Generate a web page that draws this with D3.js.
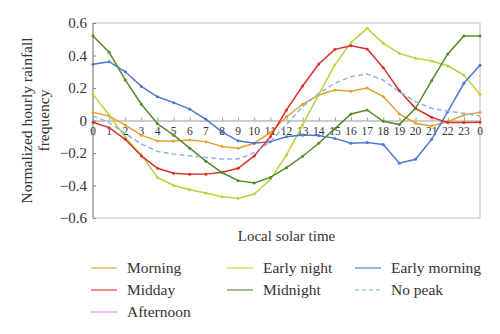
<!DOCTYPE html>
<html>
<head>
<meta charset="utf-8">
<script src="https://cdn.jsdelivr.net/npm/d3@7"></script>
<style>
  body { margin: 0; background: #fff; }
  text { font-family: "Liberation Serif", "DejaVu Serif", serif; fill: #333; }
</style>
</head>
<body>
<script>
// Hours 0..23 and back to 0
const hours = d3.range(25);
const hourLabels = hours.map(h => String(h % 24));
const yTicks = [-0.6, -0.4, -0.2, 0, 0.2, 0.4, 0.6];

// Series values
const morning = [0.05, 0.028, -0.028, -0.09, -0.126, -0.126, -0.12, -0.13, -0.16, -0.17, -0.14, -0.075, 0.023, 0.10, 0.157, 0.188, 0.18, 0.20, 0.147, 0.04, -0.017, -0.034, -0.007, 0.034, 0.05];
const midday = [-0.011, -0.044, -0.116, -0.218, -0.294, -0.325, -0.331, -0.33, -0.319, -0.294, -0.218, -0.10, 0.065, 0.212, 0.348, 0.438, 0.46, 0.44, 0.325, 0.183, 0.075, 0.02, -0.013, -0.013, -0.011];
const earlyNight = [0.161, 0.034, -0.104, -0.212, -0.35, -0.40, -0.426, -0.446, -0.469, -0.479, -0.452, -0.362, -0.212, -0.028, 0.161, 0.342, 0.479, 0.567, 0.475, 0.413, 0.383, 0.366, 0.337, 0.28, 0.161];
const midnight = [0.52, 0.42, 0.25, 0.10, -0.02, -0.09, -0.17, -0.25, -0.32, -0.37, -0.385, -0.35, -0.29, -0.22, -0.14, -0.05, 0.04, 0.065, -0.005, -0.025, 0.075, 0.245, 0.41, 0.52, 0.52];
const earlyMorning = [0.346, 0.362, 0.30, 0.21, 0.146, 0.11, 0.07, 0.007, -0.07, -0.125, -0.14, -0.13, -0.10, -0.09, -0.093, -0.11, -0.14, -0.135, -0.147, -0.263, -0.239, -0.116, 0.054, 0.229, 0.34];
const noPeak = [0.028, -0.013, -0.079, -0.145, -0.19, -0.208, -0.217, -0.227, -0.237, -0.237, -0.198, -0.13, -0.025, 0.085, 0.167, 0.229, 0.27, 0.286, 0.249, 0.177, 0.116, 0.075, 0.058, 0.044, 0.028];

const series = [
    { name: 'Morning', values: morning, color: '#e6a030' },
    { name: 'Early night', values: earlyNight, color: '#b5d53a' },
    { name: 'Early morning', values: earlyMorning, color: '#4a78d2' },
    { name: 'Midday', values: midday, color: '#d8302e' },
    { name: 'Midnight', values: midnight, color: '#56892a' },
    { name: 'No peak', values: noPeak, color: '#8fb3e6', dash: '5,3' },
    { name: 'Afternoon', values: null, color: '#c99ad8' }
];

const svg = d3.select('body')
    .append('svg')
    .attr('width', 500)
    .attr('height', 334);

const x = d3.scaleLinear().domain([0, 24]).range([93, 480]);
const y = d3.scaleLinear().domain([-0.6, 0.6]).range([218, 23]);

// Plot frame
svg.append('rect')
    .attr('x', x(0)).attr('y', y(0.6))
    .attr('width', x(24) - x(0)).attr('height', y(-0.6) - y(0.6))
    .attr('fill', 'none')
    .attr('stroke', '#bbb');
svg.append('line')
    .attr('x1', x(0)).attr('x2', x(0))
    .attr('y1', y(0.6)).attr('y2', y(-0.6))
    .attr('stroke', '#888');

// Y axis
const yAxis = svg.append('g')
    .attr('transform', `translate(${x(0)},0)`)
    .call(d3.axisRight(y).tickValues(yTicks).tickSize(3).tickFormat(''));
yAxis.select('.domain').remove();
yAxis.selectAll('line').attr('stroke', '#888');
svg.selectAll('.ylab')
    .data(yTicks)
    .enter()
    .append('text')
    .attr('x', x(0) - 6)
    .attr('y', d => y(d) + 5)
    .attr('text-anchor', 'end')
    .attr('font-size', 15)
    .text(d => d === 0 ? '0' : (d < 0 ? '\u2212' : '') + Math.abs(d).toFixed(1));

// X axis along zero
const xAxis = svg.append('g')
    .attr('transform', `translate(0,${y(0)})`)
    .call(d3.axisTop(x).tickValues(hours).tickSize(3).tickFormat(''));
xAxis.select('.domain').attr('stroke', '#999');
xAxis.selectAll('line').attr('stroke', '#999');
svg.selectAll('.xlab')
    .data(hours)
    .enter()
    .append('text')
    .attr('x', d => x(d))
    .attr('y', y(0) + 14)
    .attr('text-anchor', 'middle')
    .attr('font-size', 11.5)
    .text(d => hourLabels[d]);

// Lines
const line = d3.line()
    .x((d, i) => x(hours[i]))
    .y(d => y(d));

series.filter(s => s.values).forEach(s => {
    svg.append('path')
        .datum(s.values)
        .attr('d', line)
        .attr('fill', 'none')
        .attr('stroke', s.color)
        .attr('stroke-width', 1.5)
        .attr('stroke-dasharray', s.dash || null);
    if (!s.dash) {
        svg.append('g')
            .selectAll('circle')
            .data(s.values)
            .enter()
            .append('circle')
            .attr('cx', (d, i) => x(hours[i]))
            .attr('cy', d => y(d))
            .attr('r', 1.5)
            .attr('fill', s.color);
    }
});

// Axis titles
svg.append('text')
    .attr('transform', `translate(32,${(y(0.6) + y(-0.6)) / 2}) rotate(-90)`)
    .attr('text-anchor', 'middle')
    .attr('font-size', 15.5)
    .text('Normalized hourly rainfall');
svg.append('text')
    .attr('transform', `translate(49,${(y(0.6) + y(-0.6)) / 2}) rotate(-90)`)
    .attr('text-anchor', 'middle')
    .attr('font-size', 15.5)
    .text('frequency');
svg.append('text')
    .attr('x', (x(0) + x(24)) / 2)
    .attr('y', 241)
    .attr('text-anchor', 'middle')
    .attr('font-size', 15)
    .text('Local solar time');

// Legend, three columns
const colX = [91, 227, 355];
const legend = svg.append('g')
    .selectAll('g')
    .data(series)
    .enter()
    .append('g')
    .attr('transform', (d, i) => `translate(${colX[i % 3]},${268 + Math.floor(i / 3) * 22})`);
legend.append('line')
    .attr('x1', 0).attr('x2', 26)
    .attr('stroke', d => d.color)
    .attr('stroke-opacity', 0.75)
    .attr('stroke-width', 1.5)
    .attr('stroke-dasharray', d => d.dash ? '4,3' : null);
legend.append('text')
    .attr('x', 36)
    .attr('y', 5)
    .attr('font-size', 15.5)
    .text(d => d.name);
</script>
</body>
</html>
